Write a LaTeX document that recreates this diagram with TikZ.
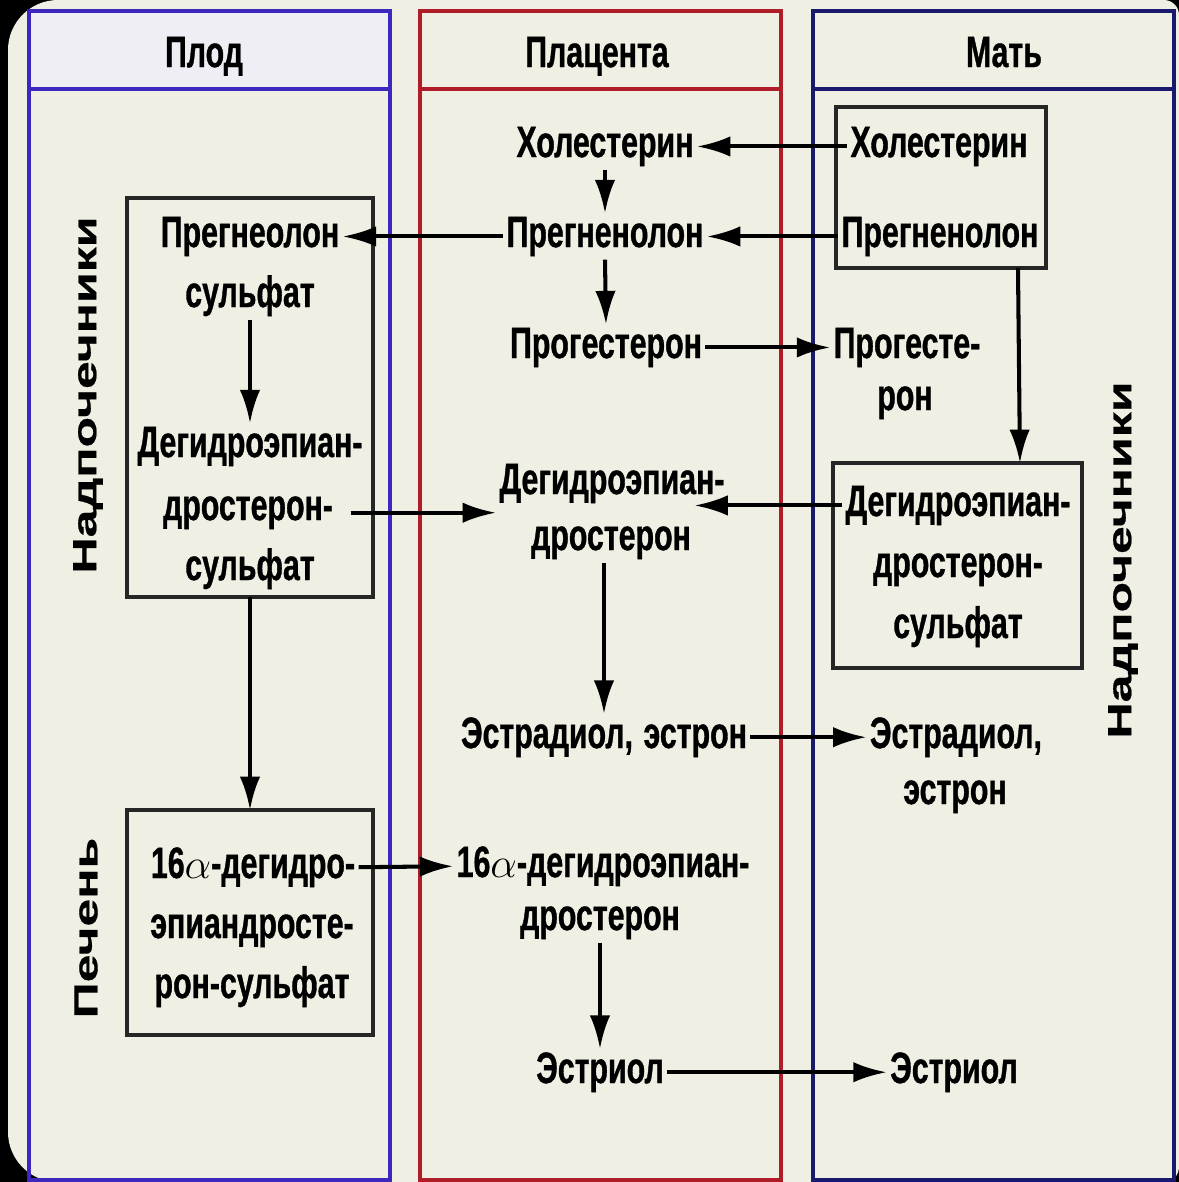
\documentclass[tikz,border=0pt]{standalone}
\usepackage{fontspec}
\setmainfont{Liberation Sans}[FakeStretch=0.69, BoldFeatures={FakeBold=0.8}]
\newfontfamily\widefont{Liberation Sans}[FakeStretch=1.5, BoldFeatures={FakeBold=0.6}]
\usetikzlibrary{positioning,arrows.meta}

\definecolor{paper}{RGB}{240,239,227}
\definecolor{headtint}{RGB}{238,238,244}
\definecolor{fetusblue}{RGB}{60,40,190}
\definecolor{motherblue}{RGB}{25,25,110}
\definecolor{placred}{RGB}{175,30,40}

\begin{document}
\begin{tikzpicture}[scale=1,
  txt/.style={font=\fontsize{12.5}{15}\selectfont\bfseries, inner sep=0.8pt, anchor=base},
  side/.style={font=\widefont\fontsize{9.5}{11}\selectfont\bfseries, rotate=90, inner sep=0pt},
  organ/.style={draw=black!85, line width=1.1pt, inner sep=0pt, outer sep=0pt},
  flow/.style={->, line width=1.15pt},
  >={Latex[length=9.5pt,width=5.8pt]}]
\useasboundingbox (0,0) rectangle (11.79,-11.82);
\fill[black] (0,0) rectangle (11.79,-11.82);
\fill[paper, rounded corners=0.5cm] (0.08,0) rectangle (11.79,-11.82);
\fill[paper, rounded corners=0.15cm] (5,0) rectangle (11.79,-11.82);

% columns
\draw[fetusblue, line width=1pt, fill=headtint] (0.29,-0.11) rectangle (3.90,-0.89);
\draw[fetusblue, line width=1pt] (0.29,-0.11) rectangle (3.90,-11.80);
\draw[placred, line width=1pt] (4.20,-0.11) rectangle (7.81,-11.80);
\draw[placred, line width=1pt] (4.20,-0.89) -- (7.81,-0.89);
\draw[motherblue, line width=1pt] (8.13,-0.11) rectangle (11.74,-11.80);
\draw[motherblue, line width=1pt] (8.13,-0.89) -- (11.74,-0.89);

\node[txt] (hplod) at (2.04,-0.67) {Плод};
\node[txt] (hplac) at (5.97,-0.67) {Плацента};
\node[txt] (hmat) at (10.04,-0.67) {Мать};

% boxes
\node[organ, minimum width=2.46cm, minimum height=3.99cm] (fadr) at (2.50,-3.975) {};
\node[organ, minimum width=2.46cm, minimum height=2.25cm] (fliv) at (2.50,-9.225) {};
\node[organ, minimum width=2.10cm, minimum height=1.61cm] (madr1) at (9.41,-1.875) {};
\node[organ, minimum width=2.49cm, minimum height=2.05cm] (madr2) at (9.575,-5.655) {};

\node[side] (sidef) at (0.88,-3.95) {Надпочечники};
\node[side] (sidel) at (0.86,-9.28) {Печень};
\node[side] (sidem) at (11.23,-5.60) {Надпочечники};

% placenta
\node[txt] (pchol) at (6.05,-1.57) {Холестерин};
\node[txt] (ppreg) at (6.05,-2.47) {Прегненолон};
\node[txt] (pprog) at (6.06,-3.58) {Прогестерон};
\node[txt] (pdhea1) at (6.12,-4.94) {Дегидроэпиан-};
\node[txt] (pdhea2) at (6.11,-5.50) {дростерон};
\node[txt] (pestr) at (6.04,-7.48) {Эстрадиол,\hspace{3pt}эстрон};
\node[txt] (p16a1) at (6.03,-8.77) {16$\alpha$-дегидроэпиан-};
\node[txt] (p16a2) at (6.00,-9.30) {дростерон};
\node[txt] (pestriol) at (6.00,-10.83) {Эстриол};

% mother
\node[txt] (mchol) at (9.39,-1.57) {Холестерин};
\node[txt] (mpreg) at (9.40,-2.47) {Прегненолон};
\node[txt] (mprog1) at (9.07,-3.58) {Прогесте-};
\node[txt] (mprog2) at (9.05,-4.10) {рон};
\node[txt] (mdhea1) at (9.58,-5.16) {Дегидроэпиан-};
\node[txt] (mdhea2) at (9.58,-5.77) {дростерон-};
\node[txt] (mdhea3) at (9.58,-6.38) {сульфат};
\node[txt] (mestr1) at (9.56,-7.48) {Эстрадиол,};
\node[txt] (mestr2) at (9.55,-8.04) {эстрон};
\node[txt] (mestriol) at (9.54,-10.83) {Эстриол};

% fetus
\node[txt] (fpreg1) at (2.50,-2.47) {Прегнеолон};
\node[txt] (fpreg2) at (2.50,-3.07) {сульфат};
\node[txt] (fdhea1) at (2.50,-4.57) {Дегидроэпиан-};
\node[txt] (fdhea2) at (2.48,-5.20) {дростерон-};
\node[txt] (fdhea3) at (2.50,-5.80) {сульфат};
\node[txt] (f16a1) at (2.53,-8.78) {16$\alpha$-дегидро-};
\node[txt] (f16a2) at (2.52,-9.38) {эпиандросте-};
\node[txt] (f16a3) at (2.52,-9.98) {рон-сульфат};

% arrows
\draw[flow] (mchol.west) -- (pchol.east);
\draw[flow] (mpreg.west) -- (ppreg.east);
\draw[flow] (ppreg.west) -- (fpreg1.east);
\draw[flow] (pchol.south) -- (ppreg.north);
\draw[flow] (ppreg.south) -- (pprog.north);
\draw[flow] (pprog.east) -- (mprog1.west);
\draw[flow] (fpreg2.south) -- (fdhea1.north);
\draw[flow, shorten <=4pt] (fdhea2.east) -- (fdhea2.east -| pdhea1.west);
\draw[flow] (mdhea1.west) -- (mdhea1.west -| pdhea2.east);
\draw[flow] ([xshift=-0.28cm]madr1.south east) -- ([xshift=-0.62cm]madr2.north east);
\draw[flow] (pestr.north |- pdhea2.south) -- (pestr.north);
\draw[flow] (pestr.east) -- (mestr1.west);
\draw[flow] (fadr.south) -- (fliv.north);
\draw[flow] (f16a1.east) -- (p16a1.west);
\draw[flow] (p16a2.south) -- (pestriol.north);
\draw[flow] (pestriol.east) -- (mestriol.west);
\end{tikzpicture}
\end{document}
